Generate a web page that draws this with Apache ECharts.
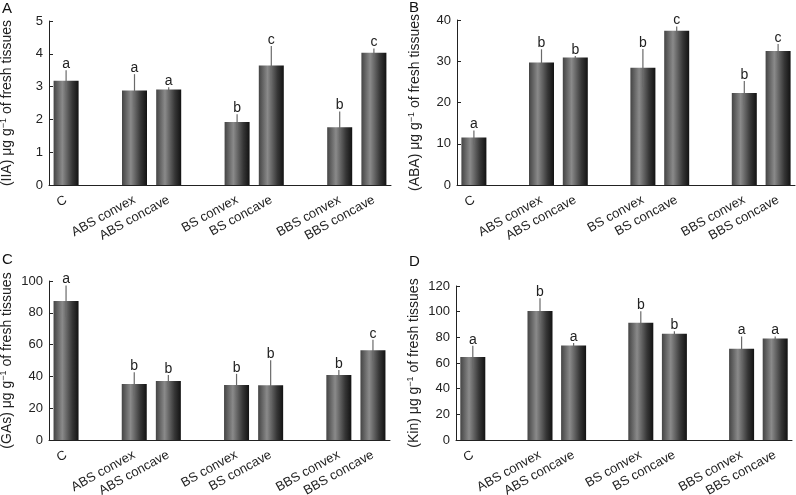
<!DOCTYPE html>
<html>
<head>
<meta charset="utf-8">
<script src="https://cdn.jsdelivr.net/npm/echarts@6/dist/echarts.min.js"></script>
<style>
html, body { margin: 0; padding: 0; background: #fff; }
#divChart { width: 796px; height: 495px; }
</style>
</head>
<body>
<div id="divChart"></div>
<script>
// treatments, with empty slots between the groups
var arrSlots = ['C', '', 'ABS convex', 'ABS concave', '', 'BS convex', 'BS concave', '', 'BBS convex', 'BBS concave'];
var arrSlotIdx = [0, 2, 3, 5, 6, 8, 9];

// A: IIA
var arrIIA = [3.18, 2.88, 2.91, 1.92, 3.64, 1.76, 4.03];
var arrIIAErr = [0.32, 0.5, 0.07, 0.24, 0.6, 0.48, 0.13];
var arrIIALet = ['a', 'a', 'a', 'b', 'c', 'b', 'c'];
// B: ABA
var arrABA = [11.5, 29.7, 30.9, 28.4, 37.4, 22.3, 32.5];
var arrABAErr = [1.7, 3.2, 0.4, 4.6, 1.0, 2.9, 1.7];
var arrABALet = ['a', 'b', 'b', 'b', 'c', 'b', 'c'];
// C: GAs
var arrGAs = [87.4, 35.2, 37.1, 34.6, 34.4, 40.9, 56.4];
var arrGAsErr = [9.7, 7.4, 3.8, 7.0, 15.8, 3.2, 6.7];
var arrGAsLet = ['a', 'b', 'b', 'b', 'b', 'b', 'c'];
// D: Kin
var arrKin = [64.6, 100.6, 73.7, 91.3, 82.8, 71.1, 79.1];
var arrKinErr = [8.9, 9.8, 1.8, 9.0, 2.0, 9.6, 1.6];
var arrKinLet = ['a', 'b', 'a', 'b', 'b', 'a', 'a'];

var arrPanels = [
    { tag: 'A', name: '(IIA)', vals: arrIIA, errs: arrIIAErr, lets: arrIIALet, max: 5, step: 1,
      grid: { left: 49, top: 21, right: 405, bottom: 310 }, tagPos: [2, 1] },
    { tag: 'B', name: '(ABA)', vals: arrABA, errs: arrABAErr, lets: arrABALet, max: 40, step: 10,
      grid: { left: 457, top: 20, right: 1, bottom: 310 }, tagPos: [409, 0] },
    { tag: 'C', name: '(GAs)', vals: arrGAs, errs: arrGAsErr, lets: arrGAsLet, max: 100, step: 20,
      grid: { left: 49, top: 281, right: 406, bottom: 55 }, tagPos: [2, 252] },
    { tag: 'D', name: '(Kin)', vals: arrKin, errs: arrKinErr, lets: arrKinLet, max: 120, step: 20,
      grid: { left: 456, top: 286, right: 4, bottom: 55 }, tagPos: [409, 254] }
];

var strFont = 'Liberation Sans, Arial, sans-serif';
var objBarColor = new echarts.graphic.LinearGradient(0, 0, 1, 0, [
    { offset: 0, color: '#444444' },
    { offset: 0.35, color: '#8a8a8a' },
    { offset: 0.75, color: '#363636' },
    { offset: 1, color: '#121212' }
]);

function SlotData(arrVals) {
    var arrOut = arrSlots.map(function() { return '-'; });
    for (var intI = 0; intI < arrVals.length; intI++) {
        arrOut[arrSlotIdx[intI]] = arrVals[intI];
    };
    return arrOut;
};

var optChart = { animation: false, title: [], grid: [], xAxis: [], yAxis: [], series: [] };

arrPanels.forEach(function(objP, intP) {
    optChart.title.push({
        text: objP.tag, left: objP.tagPos[0], top: objP.tagPos[1], padding: 0,
        textStyle: { fontFamily: strFont, fontSize: 15, fontWeight: 'normal', color: '#111' }
    });
    // keep the grids where they are, labels may hang below
    optChart.grid.push(Object.assign({ outerBoundsMode: 'none' }, objP.grid));
    optChart.xAxis.push({
        type: 'category', gridIndex: intP, data: arrSlots,
        axisLine: { lineStyle: { color: '#222', width: 1 } },
        axisTick: { show: false },
        axisLabel: { interval: 0, rotate: 29, margin: 14,
                     fontFamily: strFont, fontSize: 13, color: '#222' }
    });
    optChart.yAxis.push({
        type: 'value', gridIndex: intP, min: 0, max: objP.max, interval: objP.step,
        splitLine: { show: false },
        axisLine: { show: true, lineStyle: { color: '#222', width: 1 } },
        axisTick: { show: true, inside: true, length: 4, lineStyle: { color: '#222' } },
        axisLabel: { margin: 6, fontFamily: strFont, fontSize: 13, color: '#222' },
        name: objP.name + ' μg g{sup|−1} of fresh tissues',
        nameLocation: 'middle', nameGap: 34, nameRotate: 90,
        nameTextStyle: {
            fontFamily: strFont, fontSize: 14, color: '#222',
            rich: { sup: { fontFamily: strFont, fontSize: 9, color: '#222', padding: [0, 0, 7, 0] } }
        }
    });
    optChart.series.push({
        type: 'bar', xAxisIndex: intP, yAxisIndex: intP,
        data: SlotData(objP.vals), barWidth: 25,
        itemStyle: { color: objBarColor }
    });
    var arrErrData = objP.vals.map(function(numV, intI) {
        return [arrSlotIdx[intI], numV, objP.errs[intI]];
    });
    optChart.series.push({
        type: 'custom', xAxisIndex: intP, yAxisIndex: intP, data: arrErrData, z: 5,
        renderItem: function(params, api) {
            var numX = api.value(0), numV = api.value(1), numE = api.value(2);
            var ptTop = api.coord([numX, numV + numE]);
            var ptBot = api.coord([numX, numV - numE]);
            return {
                type: 'group',
                children: [{
                    type: 'line',
                    shape: { x1: ptTop[0], y1: ptTop[1], x2: ptBot[0], y2: ptBot[1] },
                    style: { stroke: '#6a6a6a', lineWidth: 1.2 }
                }, {
                    type: 'text',
                    style: {
                        text: objP.lets[params.dataIndex], x: ptTop[0], y: ptTop[1] + 1,
                        align: 'center', verticalAlign: 'bottom',
                        font: '14px ' + strFont, fill: '#222'
                    }
                }]
            };
        }
    });
});

var chartMain = echarts.init(document.getElementById('divChart'));
chartMain.setOption(optChart);
</script>
</body>
</html>
